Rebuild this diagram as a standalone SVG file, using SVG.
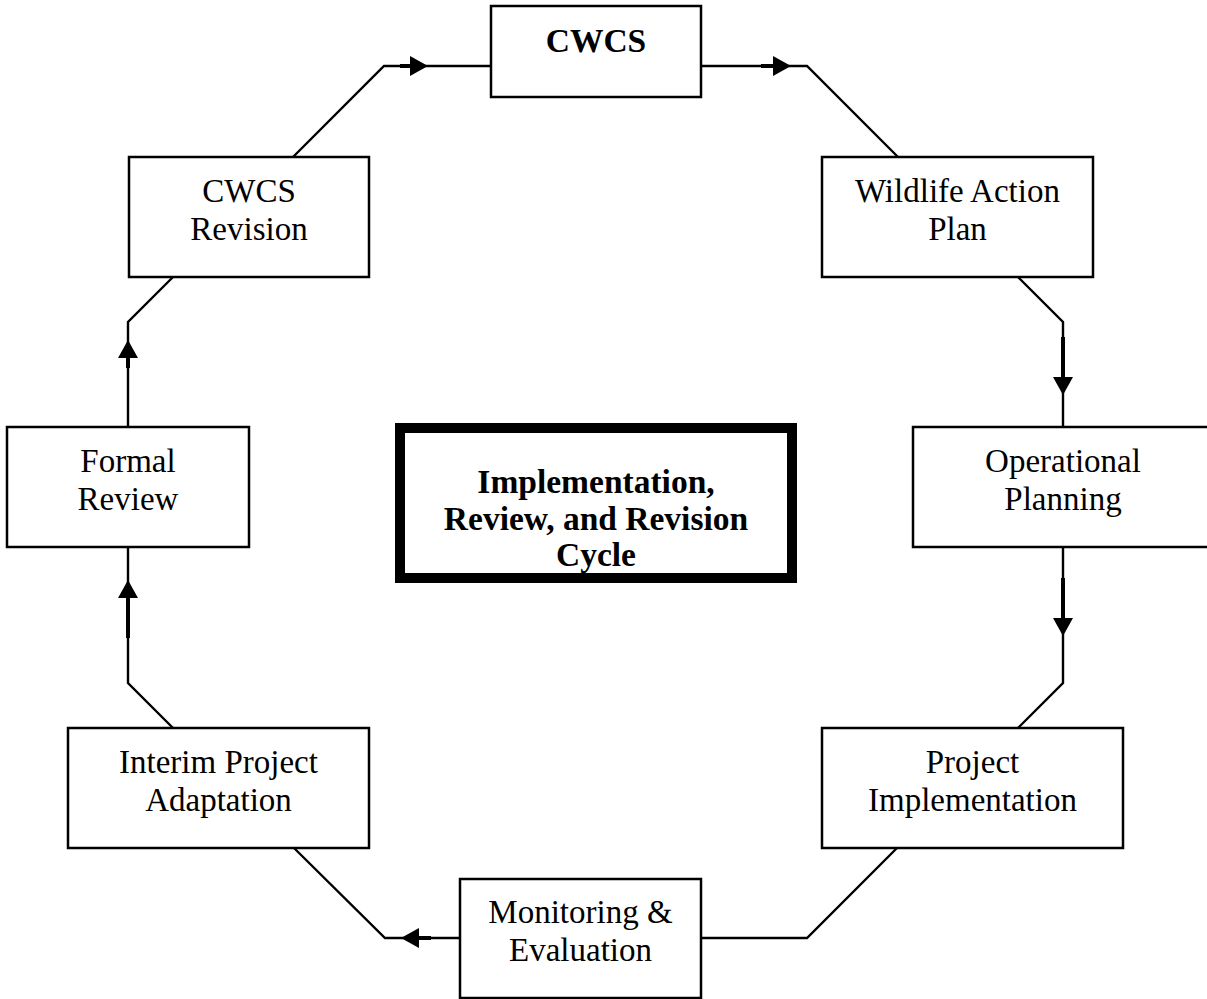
<svg xmlns="http://www.w3.org/2000/svg" width="1207" height="999" viewBox="0 0 1207 999">
<style>
.box{fill:#fff;stroke:#000;stroke-width:2.5}
.main{fill:#fff;stroke:#000;stroke-width:10}
.lbl{font-family:"Liberation Serif","Times New Roman",serif;font-size:33px;fill:#000;text-anchor:middle}
.b{font-weight:bold;font-size:33.5px}
.con{fill:none;stroke:#000;stroke-width:2.4}
.arr{fill:none;stroke:#000;stroke-width:4}
</style>
<defs>
<marker id="ah" markerUnits="userSpaceOnUse" markerWidth="18" markerHeight="20" refX="0" refY="10" orient="auto" viewBox="0 0 18 20">
<path d="M0,0 L18,10 L0,20 Z" fill="#000"/>
</marker>
</defs>
<rect width="1207" height="999" fill="#fff"/>
<g id="connectors">
<polyline class="con" points="293,157 384,66 491,66"/>
<polyline class="con" points="701,66 807,66 898,157"/>
<polyline class="con" points="1018,277 1063,322 1063,427"/>
<polyline class="con" points="1063,547 1063,683 1018,728"/>
<polyline class="con" points="897,848 807,938 701,938"/>
<polyline class="con" points="460,938 385,938 294,848"/>
<polyline class="con" points="173,728 128,683 128,547"/>
<polyline class="con" points="128,427 128,322 173,277"/>
<path class="arr" d="M400,66 L410,66" marker-end="url(#ah)"/>
<path class="arr" d="M761,66 L773,66" marker-end="url(#ah)"/>
<path class="arr" d="M1063,337 L1063,377" marker-end="url(#ah)"/>
<path class="arr" d="M1063,578 L1063,618" marker-end="url(#ah)"/>
<path class="arr" d="M431,938 L419,938" marker-end="url(#ah)"/>
<path class="arr" d="M128,638 L128,598" marker-end="url(#ah)"/>
<path class="arr" d="M128,368 L128,358" marker-end="url(#ah)"/>
</g>
<g id="cwcs">
<rect class="box" x="491" y="6" width="210" height="91"/>
<text class="lbl b" x="596" y="52">CWCS</text>
</g>
<g id="wildlife">
<rect class="box" x="822" y="157" width="271" height="120"/>
<text class="lbl" x="957.5" y="202">Wildlife Action</text>
<text class="lbl" x="957.5" y="240">Plan</text>
</g>
<g id="operational">
<rect class="box" x="913" y="427" width="300" height="120"/>
<text class="lbl" x="1063" y="472">Operational</text>
<text class="lbl" x="1063" y="510">Planning</text>
</g>
<g id="project">
<rect class="box" x="822" y="728" width="301" height="120"/>
<text class="lbl" x="972.5" y="773">Project</text>
<text class="lbl" x="972.5" y="811">Implementation</text>
</g>
<g id="monitoring">
<rect class="box" x="460" y="879" width="241" height="119"/>
<text class="lbl" x="580.5" y="923">Monitoring &amp;</text>
<text class="lbl" x="580.5" y="961">Evaluation</text>
</g>
<g id="interim">
<rect class="box" x="68" y="728" width="301" height="120"/>
<text class="lbl" x="218.5" y="773">Interim Project</text>
<text class="lbl" x="218.5" y="811">Adaptation</text>
</g>
<g id="formal">
<rect class="box" x="7" y="427" width="242" height="120"/>
<text class="lbl" x="128" y="472">Formal</text>
<text class="lbl" x="128" y="510">Review</text>
</g>
<g id="revision">
<rect class="box" x="129" y="157" width="240" height="120"/>
<text class="lbl" x="249" y="202">CWCS</text>
<text class="lbl" x="249" y="240">Revision</text>
</g>
<g id="center">
<rect class="main" x="400" y="428" width="392" height="150"/>
<text class="lbl b" x="596" y="493">Implementation,</text>
<text class="lbl b" x="596" y="530">Review, and Revision</text>
<text class="lbl b" x="596" y="566">Cycle</text>
</g>
</svg>
